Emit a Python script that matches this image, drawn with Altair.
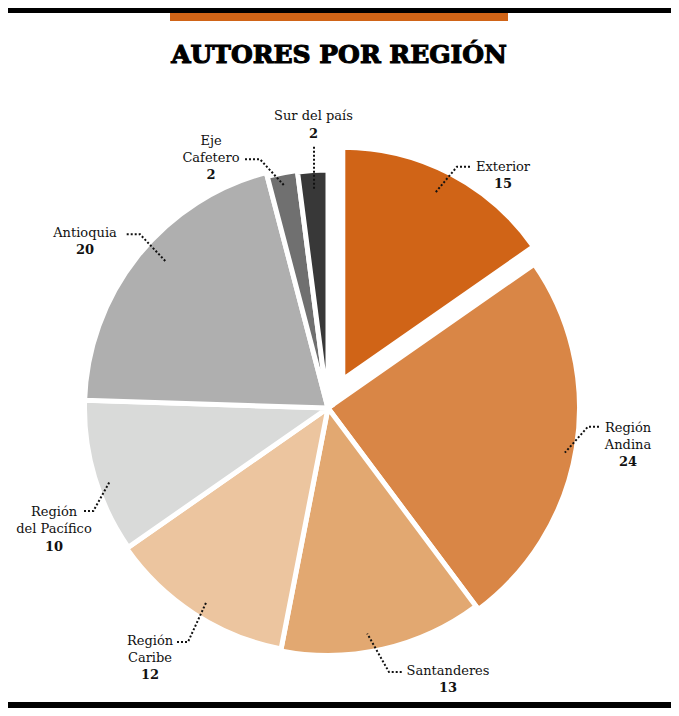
import math
import altair as alt
import pandas as pd

# ---------------- data ----------------
REGIONS = ["Exterior", "Región Andina", "Santanderes", "Región Caribe",
           "Región del Pacífico", "Antioquia", "Eje Cafetero", "Sur del país"]
AUTHORS = [15, 24, 13, 12, 10, 20, 2, 2]
COLORS = ["#D06417", "#D98646", "#E2A871", "#ECC59F",
          "#D9DAD9", "#AFAFAF", "#707070", "#383838"]
TITLE = "AUTORES POR REGIÓN"
TOTAL = sum(AUTHORS)

# ---------------- layout (annotation placement / sizes) ----------------
W, H = 663, 700
CX, CY = 320, 400          # pie centre
STROKE = 5
EXPLODE = {"Exterior": 32}
# visible outer radius of each wedge (as drawn in the original artwork)
WEDGE_R = {
    "Exterior": 230, "Región Andina": 249, "Santanderes": 245, "Región Caribe": 243,
    "Región del Pacífico": 241, "Antioquia": 241, "Eje Cafetero": 237, "Sur del país": 235.5,
}

LABEL_LINES = {
    "Exterior": ["Exterior"],
    "Región Andina": ["Región", "Andina"],
    "Santanderes": ["Santanderes"],
    "Región Caribe": ["Región", "Caribe"],
    "Región del Pacífico": ["Región", "del Pacífico"],
    "Antioquia": ["Antioquia"],
    "Eje Cafetero": ["Eje", "Cafetero"],
    "Sur del país": ["Sur del país"],
}
# label centre x, centre y of first line
LABEL_POS = {
    "Exterior": (495, 158),
    "Región Andina": (620, 419),
    "Santanderes": (440, 662),
    "Región Caribe": (142, 632),
    "Región del Pacífico": (46, 503.5),
    "Antioquia": (77, 224.3),
    "Eje Cafetero": (203, 132),
    "Sur del país": (305.5, 107.7),
}
# leader: outer end, elbow (or None), inner distance from wedge apex, angle nudge (deg)
LEADER = {
    "Exterior": ((462, 158.7), (449, 158.7), 209, -1.2),
    "Región Andina": ((591, 418.7), (580, 418.7), 241, 1.5),
    "Santanderes": ((393.7, 664), (381, 664), 229, 3.0),
    "Región Caribe": ((169, 634), (180, 634), 230, -1.0),
    "Región del Pacífico": ((76, 503), (85.3, 503), 230, -2.0),
    "Antioquia": ((118.7, 226.3), (132, 226.3), 218, 3.5),
    "Eje Cafetero": ((237, 151.3), (252, 151.3), 226, 0.0),
    "Sur del país": ((306, 138.7), None, 218, 0.0),
}
LINE_STEP = 17
NUM_STEP = 17.5
BASE_SHIFT = 4.5

# ---------------- tables ----------------
arc_rows, lead_rows, text_rows = [], [], []
cum = 0
for reg, val in zip(REGIONS, AUTHORS):
    start, end = cum, cum + val
    cum = end
    mid = (start + end) / 2 / TOTAL * 2 * math.pi
    ex = EXPLODE.get(reg, 0)
    cx = CX + ex * math.sin(mid)
    cy = CY - ex * math.cos(mid)
    arc_rows.append(dict(region=reg, value=val, start=start, end=end, cx=cx, cy=cy,
                         r=WEDGE_R[reg] + STROKE / 2))

    outer, elbow, dist, nudge = LEADER[reg]
    ang = mid + math.radians(nudge)
    inner = (cx + dist * math.sin(ang), cy - dist * math.cos(ang))
    pts = [outer] + ([elbow] if elbow else []) + [inner]
    for i, (px, py) in enumerate(pts):
        lead_rows.append(dict(region=reg, ord=i, px=px, py=py))

    lx, ly = LABEL_POS[reg]
    lines = LABEL_LINES[reg]
    for i, ln in enumerate(lines):
        text_rows.append(dict(t=ln, x=lx, y=ly + i * LINE_STEP + BASE_SHIFT, bold=0))
    text_rows.append(dict(t=str(val), x=lx,
                          y=ly + (len(lines) - 1) * LINE_STEP + NUM_STEP + BASE_SHIFT, bold=1))

arc_df = pd.DataFrame(arc_rows)
lead_df = pd.DataFrame(lead_rows)
text_df = pd.DataFrame(text_rows)

# ---------------- chart ----------------
pie = alt.Chart(arc_df).mark_arc(stroke="white", strokeWidth=STROKE).encode(
    x=alt.X("cx:Q", scale=None),
    y=alt.Y("cy:Q", scale=None),
    theta=alt.Theta("start:Q", stack=None,
                    scale=alt.Scale(domain=[0, TOTAL], range=[0, 2 * math.pi])),
    theta2="end:Q",
    radius=alt.Radius("r:Q", scale=None),
    color=alt.Color("region:N", scale=alt.Scale(domain=REGIONS, range=COLORS), legend=None),
)

leaders = alt.Chart(lead_df).mark_line(
    strokeDash=[2, 2], strokeWidth=2, color="#111111", strokeCap="butt"
).encode(
    x=alt.X("px:Q", scale=None),
    y=alt.Y("py:Q", scale=None),
    detail="region:N",
    order="ord:Q",
)

names = alt.Chart(text_df).transform_filter("datum.bold == 0").mark_text(
    font="DejaVu Serif", fontSize=13, color="#111111", align="center", baseline="alphabetic"
).encode(x=alt.X("x:Q", scale=None), y=alt.Y("y:Q", scale=None), text="t:N")

nums = alt.Chart(text_df).transform_filter("datum.bold == 1").mark_text(
    font="DejaVu Serif", fontSize=13, fontWeight="bold", color="#111111",
    align="center", baseline="alphabetic"
).encode(x=alt.X("x:Q", scale=None), y=alt.Y("y:Q", scale=None), text="t:N")

title = alt.Chart(pd.DataFrame({"t": [TITLE]})).mark_text(
    font="DejaVu Serif", fontSize=25, fontWeight="bold", color="black",
    stroke="black", strokeWidth=1.1, align="center", baseline="alphabetic"
).encode(x=alt.value(331), y=alt.value(55), text="t:N")

one = pd.DataFrame({"a": [0]})
top_bar = alt.Chart(one).mark_rect(color="black").encode(
    x=alt.value(0), x2=alt.value(W), y=alt.value(0), y2=alt.value(5))
orange_bar = alt.Chart(one).mark_rect(color="#D06417").encode(
    x=alt.value(162), x2=alt.value(500), y=alt.value(5), y2=alt.value(13))
bottom_bar = alt.Chart(one).mark_rect(color="black").encode(
    x=alt.value(0), x2=alt.value(W), y=alt.value(694), y2=alt.value(H))

chart = alt.layer(pie, leaders, names, nums, title, top_bar, orange_bar, bottom_bar).properties(
    width=W, height=H, autosize=alt.AutoSizeParams(type="none"), padding=0,
    background="white",
).configure_view(stroke=None)

chart.save("out.html", embed_options={"renderer": "svg", "actions": False})
